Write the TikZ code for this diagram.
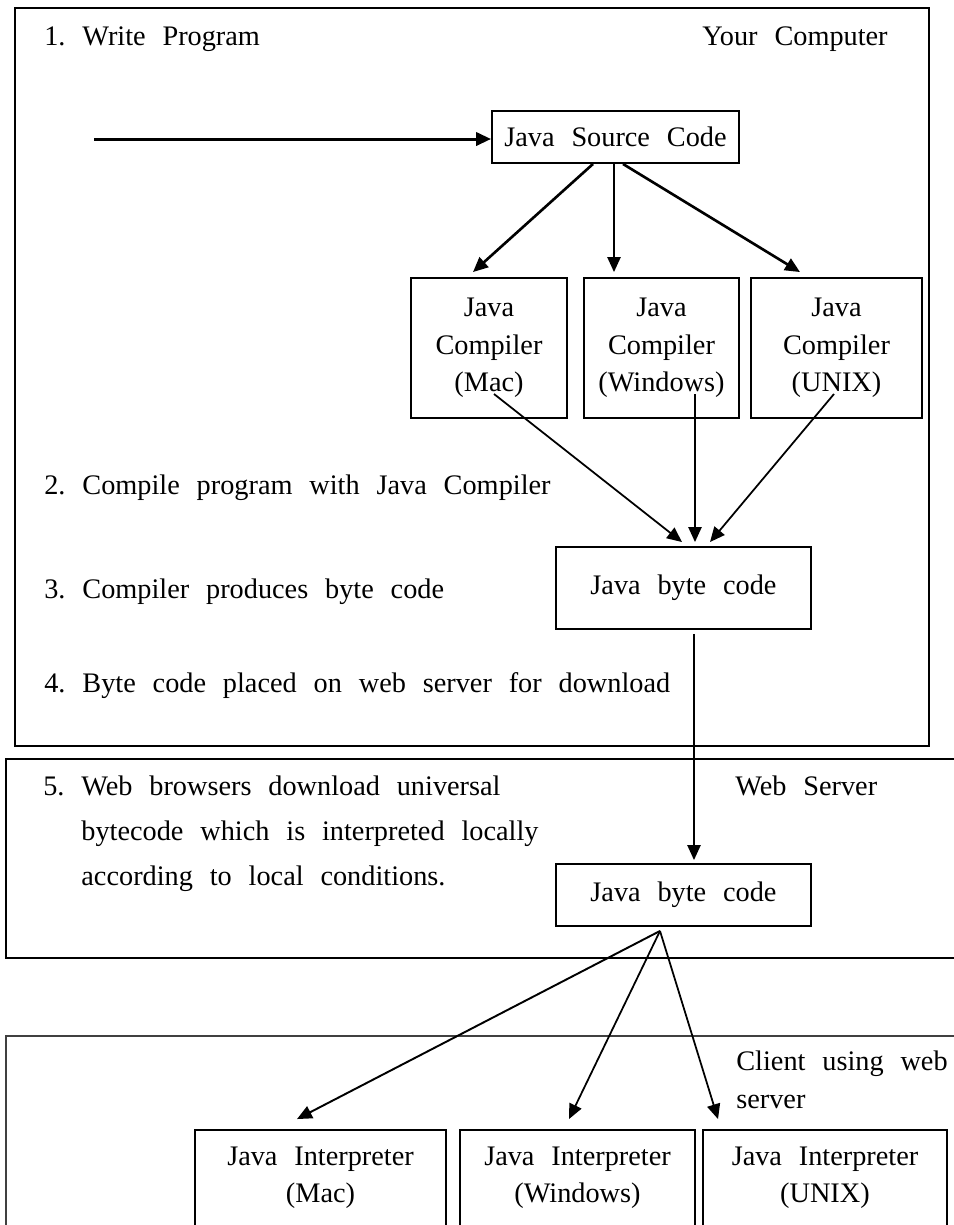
\documentclass[tikz,border=0pt]{standalone}
\usepackage{fontspec}
\setmainfont{Liberation Serif}
\usetikzlibrary{arrows.meta}
\frenchspacing
\newcommand\diafont{\fontsize{16.1}{21.3}\selectfont\spaceskip=9.6pt plus 3pt minus 1pt\relax}
\newcommand\notefont{\fontsize{16.1}{25.5}\selectfont\spaceskip=9.6pt plus 3pt minus 1pt\relax}

\begin{document}
\begin{tikzpicture}[
  x=0.02cm, y=-0.02cm,
  box/.style={draw, line width=1.1pt, inner sep=0pt, align=center, font=\diafont},
  note/.style={inner sep=0pt, align=left, font=\diafont},
  frame/.style={line width=1.1pt},
  link/.style={->, line width=1pt},
  >={Triangle[length=8.5pt,width=7.5pt]}
]
  \useasboundingbox (0,0) rectangle (954,1225);
  \clip (0,0) rectangle (954,1225);

  % frames: your computer, web server, client
  \draw[frame] (15,8) rectangle (929,746);
  \draw[frame, line width=1.3pt] (960,759) -- (6,759) -- (6,958) -- (960,958);
  \draw[frame, black!75] (960,1036) -- (6,1036) -- (6,1230);

  \node[note, anchor=base west] (step1) at (44,45) {1. Write Program};
  \node[note, anchor=base east] (yours) at (888,45) {Your Computer};
  \node[note, anchor=base west] (step2) at (44,494) {2. Compile program with Java Compiler};
  \node[note, anchor=base west] (step3) at (44,598) {3. Compiler produces byte code};
  \node[note, anchor=base west] (step4) at (44,692) {4. Byte code placed on web server for download};
  \node[note, font=\notefont, anchor=north west] (step5) at (43,776)
    {5. Web browsers download universal\\\phantom{5.}\ bytecode which is interpreted locally\\\phantom{5.}\ according to local conditions.};
  \node[note, anchor=base west] (server) at (735,795) {Web Server};
  \node[note, anchor=north west] (client) at (736,1051) {Client using web\\server};

  \node[box, minimum width=4.94cm, minimum height=1.04cm] (src) at (615.5,137) {Java Source Code};

  \node[box, minimum width=3.12cm, minimum height=2.8cm] (cmac) at (489,348) {Java\\Compiler\\(Mac)};
  \node[box, minimum width=3.1cm, minimum height=2.8cm] (cwin) at (661.5,348) {Java\\Compiler\\(Windows)};
  \node[box, minimum width=3.42cm, minimum height=2.8cm] (cunix) at (836.5,348) {Java\\Compiler\\(UNIX)};

  \node[box, minimum width=5.1cm, minimum height=1.64cm] (byte1) at (683.5,588) {Java byte code};
  \node[box, minimum width=5.1cm, minimum height=1.24cm] (byte2) at (683.5,895) {Java byte code};

  \node[box, minimum width=5.02cm, minimum height=1.92cm] (imac) at (320.5,1178) {Java Interpreter\\(Mac)};
  \node[box, minimum width=4.7cm, minimum height=1.92cm] (iwin) at (577.5,1178) {Java Interpreter\\(Windows)};
  \node[box, minimum width=4.88cm, minimum height=1.92cm] (iunix) at (825,1178) {Java Interpreter\\(UNIX)};

  \coordinate (write) at (94,139);
  \draw[link, line width=1.7pt] (write) -- (src.west |- write);

  \draw[link, line width=1.5pt] ([xshift=-0.45cm]src.south) -- ([xshift=-0.32cm,yshift=0.1cm]cmac.north);
  \draw[link] ([xshift=-0.03cm]src.south) -- ([xshift=-0.03cm,yshift=0.1cm]src.south |- cwin.north);
  \draw[link, line width=1.5pt] ([xshift=0.15cm]src.south) -- ([xshift=-0.73cm,yshift=0.1cm]cunix.north);

  \draw[link] ([xshift=0.1cm,yshift=-0.92cm]cmac.center) -- ([xshift=-0.03cm,yshift=0.08cm]byte1.north);
  \draw[link] ([xshift=0.67cm,yshift=-0.92cm]cwin.center) -- ([xshift=0.23cm,yshift=0.08cm]byte1.north);
  \draw[link] ([xshift=-0.05cm,yshift=-0.92cm]cunix.center) -- ([xshift=0.53cm,yshift=0.08cm]byte1.north);

  \draw[link] ([xshift=0.21cm,yshift=-0.08cm]byte1.south) -- ([xshift=0.21cm,yshift=0.06cm]byte2.north);

  \coordinate (fan) at ([xshift=-0.47cm,yshift=-0.08cm]byte2.south);
  \draw[link, line width=1.1pt] (fan) -- ([xshift=-0.47cm,yshift=0.2cm]imac.north);
  \draw[link] (fan) -- ([xshift=-0.17cm,yshift=0.2cm]iwin.north);
  \draw[link] (fan) -- ([xshift=-2.14cm,yshift=0.2cm]iunix.north);
\end{tikzpicture}
\end{document}
